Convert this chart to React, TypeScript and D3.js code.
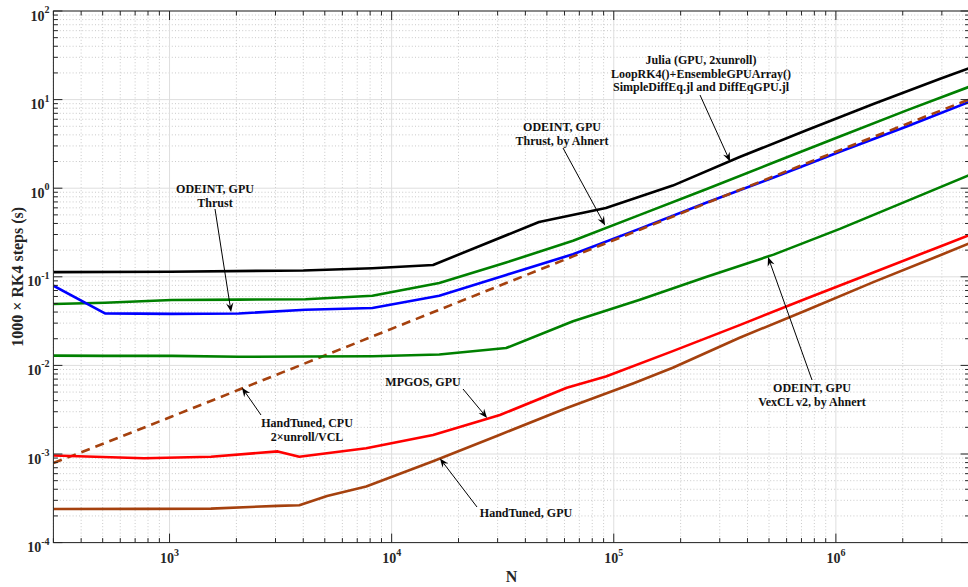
import React from 'react';
import * as d3 from 'd3';

type Pt = [number, number];

// Plot frame (pixels)
const W = 968;
const H = 587;
const PLOT = { left: 53.4, right: 969.6, top: 11, bottom: 542.6 };

// Axis limits and ticks
const xDomain: [number, number] = [300, 4e6];
const yDomain: [number, number] = [1e-4, 1e2];
const xMajorExp = [3, 4, 5, 6];
const yMajorExp = [-4, -3, -2, -1, 0, 1, 2];

// Timings: [N, seconds per 1000 RK4 steps]
const juliaGpu: Pt[] = [
  [300, 0.113], [1000, 0.114], [4000, 0.118], [8192, 0.125], [15360, 0.136],
  [46080, 0.416], [92160, 0.598], [184320, 1.07], [368640, 2.25], [737280, 4.5],
  [1474560, 8.9], [2949120, 17.2], [4000000, 22.7],
];
const odeintThrustAhnert: Pt[] = [
  [300, 0.0493], [512, 0.051], [1024, 0.0547], [2048, 0.0552], [4096, 0.0558],
  [8192, 0.061], [16384, 0.085], [32768, 0.145], [65536, 0.255], [131072, 0.5],
  [262144, 0.98], [524288, 1.95], [1048576, 3.85], [2097152, 7.6], [4000000, 14.0],
];
const odeintThrust: Pt[] = [
  [300, 0.0794], [512, 0.0387], [1024, 0.0382], [2048, 0.0385], [4096, 0.0425],
  [8192, 0.0445], [16384, 0.061], [32768, 0.105], [65536, 0.18], [131072, 0.35],
  [262144, 0.69], [524288, 1.32], [1048576, 2.6], [2097152, 5.0], [4000000, 9.46],
];
const handTunedCpu: Pt[] = [
  [300, 7.9e-4], [512, 1.33e-3], [1024, 2.65e-3], [2048, 5.3e-3], [4096, 1.06e-2],
  [8192, 2.12e-2], [16384, 4.25e-2], [32768, 8.5e-2], [65536, 0.17], [131072, 0.34],
  [262144, 0.68], [524288, 1.36], [1048576, 2.7], [2097152, 5.35], [4000000, 10.1],
];
const odeintVexcl: Pt[] = [
  [300, 0.0129], [512, 0.0128], [1024, 0.0128], [2048, 0.0125], [4096, 0.0126],
  [8192, 0.0127], [16384, 0.0133], [32768, 0.0157], [65536, 0.0315], [131072, 0.055],
  [262144, 0.1], [524288, 0.178], [1048576, 0.35], [2097152, 0.72], [4000000, 1.41],
];
const mpgosGpu: Pt[] = [
  [300, 9.6e-4], [768, 8.95e-4], [1536, 9.3e-4], [3072, 1.07e-3], [3840, 9.3e-4],
  [7680, 1.16e-3], [15360, 1.64e-3], [30720, 2.75e-3], [61440, 5.6e-3], [92160, 7.5e-3],
  [184320, 0.0145], [368640, 0.0285], [737280, 0.057], [1474560, 0.112],
  [2949120, 0.22], [4000000, 0.296],
];
const handTunedGpu: Pt[] = [
  [300, 2.39e-4], [768, 2.4e-4], [1536, 2.42e-4], [3072, 2.6e-4], [3840, 2.64e-4],
  [5120, 3.36e-4], [7680, 4.3e-4], [15360, 8.3e-4], [30720, 1.65e-3], [61440, 3.3e-3],
  [122880, 6.3e-3], [184320, 9.4e-3], [368640, 0.0205], [737280, 0.042],
  [1474560, 0.087], [2949120, 0.175], [4000000, 0.239],
];

const BROWN = '#a5410e';
const GREEN = '#008000';

const series = [
  { key: 'julia', data: juliaGpu, color: '#000000', dash: undefined as string | undefined },
  { key: 'thrustAhnert', data: odeintThrustAhnert, color: GREEN, dash: undefined },
  { key: 'thrust', data: odeintThrust, color: '#0000ff', dash: undefined },
  { key: 'handCpu', data: handTunedCpu, color: BROWN, dash: '9,6' },
  { key: 'vexcl', data: odeintVexcl, color: GREEN, dash: undefined },
  { key: 'mpgos', data: mpgosGpu, color: '#ff0000', dash: undefined },
  { key: 'handGpu', data: handTunedGpu, color: BROWN, dash: undefined },
];

// Callouts: text block centre + first baseline (pixels), arrow tail (pixels), arrow tip (data)
const callouts = [
  { lines: ['Julia (GPU, 2xunroll)', 'LoopRK4()+EnsembleGPUArray()', 'SimpleDiffEq.jl and DiffEqGPU.jl'],
    cx: 701, by: 64, tail: [700, 95], tip: [3.34e5, 2.0] },
  { lines: ['ODEINT, GPU', 'Thrust, by Ahnert'], cx: 562, by: 131, tail: [563, 148], tip: [9.14e4, 0.38] },
  { lines: ['ODEINT, GPU', 'Thrust'], cx: 215, by: 193, tail: [215, 209], tip: [1893, 0.040] },
  { lines: ['HandTuned, CPU', '2\u00d7unroll/VCL'], cx: 307, by: 427, tail: [261, 415], tip: [2120, 5.6e-3] },
  { lines: ['MPGOS, GPU'], cx: 423, by: 386, tail: [463, 389], tip: [26900, 2.55e-3] },
  { lines: ['HandTuned, GPU'], cx: 526, by: 517, tail: [477, 507], tip: [16500, 8.9e-4] },
  { lines: ['ODEINT, GPU', 'VexCL v2, by Ahnert'], cx: 812, by: 392, tail: [812, 380], tip: [4.95e5, 0.167] },
];

const FONT = '"Liberation Serif", "Times New Roman", serif';
const AXIS = '#262626';

function minorValues(lo: number, hi: number): number[] {
  const out: number[] = [];
  for (let e = Math.floor(Math.log10(lo)); e <= Math.ceil(Math.log10(hi)); e++) {
    for (let k = 2; k <= 9; k++) {
      const v = k * Math.pow(10, e);
      if (v >= lo && v <= hi) out.push(v);
    }
  }
  return out;
}

function Arrow({ x1, y1, x2, y2 }: { x1: number; y1: number; x2: number; y2: number }) {
  const a = Math.atan2(y2 - y1, x2 - x1);
  const L = 9, Wd = 3.6, notch = 6;
  const ux = Math.cos(a), uy = Math.sin(a);
  const px = -uy, py = ux;
  const bx = x2 - ux * L, by = y2 - uy * L;
  const nx = x2 - ux * notch, ny = y2 - uy * notch;
  const pts = [
    [x2, y2], [bx + px * Wd, by + py * Wd], [nx, ny], [bx - px * Wd, by - py * Wd],
  ].map(p => p.join(',')).join(' ');
  return (
    <g>
      <line x1={x1} y1={y1} x2={nx} y2={ny} stroke="#000" strokeWidth={1} />
      <polygon points={pts} fill="#000" />
    </g>
  );
}

export default function App() {
  const x = d3.scaleLog().domain(xDomain).range([PLOT.left, PLOT.right]);
  const y = d3.scaleLog().domain(yDomain).range([PLOT.bottom, PLOT.top]);
  const line = d3.line<Pt>().x(d => x(d[0])).y(d => y(d[1]));

  const xMajor = xMajorExp.map(e => Math.pow(10, e));
  const yMajor = yMajorExp.map(e => Math.pow(10, e));
  const xMinor = minorValues(xDomain[0], xDomain[1]);
  const yMinor = minorValues(yDomain[0], yDomain[1]);

  return (
    <svg width={W} height={H} style={{ position: 'absolute', left: 0, top: 0, background: '#fff' }}
      fontFamily={FONT}>
      <defs>
        <clipPath id="plotClip">
          <rect x={PLOT.left} y={PLOT.top} width={PLOT.right - PLOT.left} height={PLOT.bottom - PLOT.top} />
        </clipPath>
      </defs>
      <rect x={0} y={0} width={W} height={H} fill="#fff" />

      {/* grid */}
      <g>
        {xMinor.map(v => (
          <line key={'gxm' + v} x1={x(v)} x2={x(v)} y1={PLOT.top} y2={PLOT.bottom}
            stroke="#bdbdbd" strokeWidth={0.8} strokeDasharray="1,2.2" />
        ))}
        {yMinor.map(v => (
          <line key={'gym' + v} x1={PLOT.left} x2={PLOT.right} y1={y(v)} y2={y(v)}
            stroke="#bdbdbd" strokeWidth={0.8} strokeDasharray="1,2.2" />
        ))}
        {xMajor.map(v => (
          <line key={'gx' + v} x1={x(v)} x2={x(v)} y1={PLOT.top} y2={PLOT.bottom}
            stroke="#dedede" strokeWidth={1} />
        ))}
        {yMajor.map(v => (
          <line key={'gy' + v} x1={PLOT.left} x2={PLOT.right} y1={y(v)} y2={y(v)}
            stroke="#dedede" strokeWidth={1} />
        ))}
      </g>

      {/* series */}
      <g clipPath="url(#plotClip)">
        {series.map(s => (
          <path key={s.key} d={line(s.data) || ''} fill="none" stroke={s.color}
            strokeWidth={2.6} strokeDasharray={s.dash} strokeLinejoin="round" />
        ))}
      </g>

      {/* box + ticks */}
      <g stroke={AXIS} strokeWidth={1}>
        <rect x={PLOT.left} y={PLOT.top} width={PLOT.right - PLOT.left} height={PLOT.bottom - PLOT.top}
          fill="none" />
        {xMajor.map(v => (
          <g key={'tx' + v}>
            <line x1={x(v)} x2={x(v)} y1={PLOT.bottom} y2={PLOT.bottom - 9} />
            <line x1={x(v)} x2={x(v)} y1={PLOT.top} y2={PLOT.top + 9} />
          </g>
        ))}
        {xMinor.map(v => (
          <g key={'txm' + v}>
            <line x1={x(v)} x2={x(v)} y1={PLOT.bottom} y2={PLOT.bottom - 4.5} />
            <line x1={x(v)} x2={x(v)} y1={PLOT.top} y2={PLOT.top + 4.5} />
          </g>
        ))}
        {yMajor.map(v => (
          <g key={'ty' + v}>
            <line x1={PLOT.left} x2={PLOT.left + 9} y1={y(v)} y2={y(v)} />
            <line x1={PLOT.right} x2={PLOT.right - 9} y1={y(v)} y2={y(v)} />
          </g>
        ))}
        {yMinor.map(v => (
          <g key={'tym' + v}>
            <line x1={PLOT.left} x2={PLOT.left + 4.5} y1={y(v)} y2={y(v)} />
            <line x1={PLOT.right} x2={PLOT.right - 4.5} y1={y(v)} y2={y(v)} />
          </g>
        ))}
      </g>

      {/* tick labels */}
      <g fontWeight="bold" fill={AXIS}>
        {xMajorExp.map(e => (
          <text key={'lx' + e} x={x(Math.pow(10, e))} y={563} textAnchor="middle" fontSize={14}>
            <tspan>10</tspan>
            <tspan dy={-7} fontSize={10}>{e}</tspan>
          </text>
        ))}
        {yMajorExp.map(e => (
          <text key={'ly' + e} x={49.5} y={y(Math.pow(10, e)) + 9.5} textAnchor="end" fontSize={14}>
            <tspan>10</tspan>
            <tspan dy={-7.5} fontSize={10}>{e}</tspan>
          </text>
        ))}
      </g>

      {/* axis titles */}
      <text x={(PLOT.left + PLOT.right) / 2} y={582} textAnchor="middle" fontWeight="bold"
        fontSize={16} fill={AXIS}>N</text>
      <text transform={`translate(23, ${(PLOT.top + PLOT.bottom) / 2}) rotate(-90)`} textAnchor="middle"
        fontWeight="bold" fontSize={16} fill={AXIS}>1000 {'\u00d7'} RK4 steps (s)</text>

      {/* callouts */}
      <g>
        {callouts.map((c, i) => (
          <g key={'c' + i}>
            <Arrow x1={c.tail[0]} y1={c.tail[1]} x2={x(c.tip[0])} y2={y(c.tip[1])} />
            {c.lines.map((t, j) => (
              <text key={j} x={c.cx} y={c.by + j * 13.5} textAnchor="middle" fontWeight="bold"
                fontSize={12} fill="#111">{t}</text>
            ))}
          </g>
        ))}
      </g>
    </svg>
  );
}
